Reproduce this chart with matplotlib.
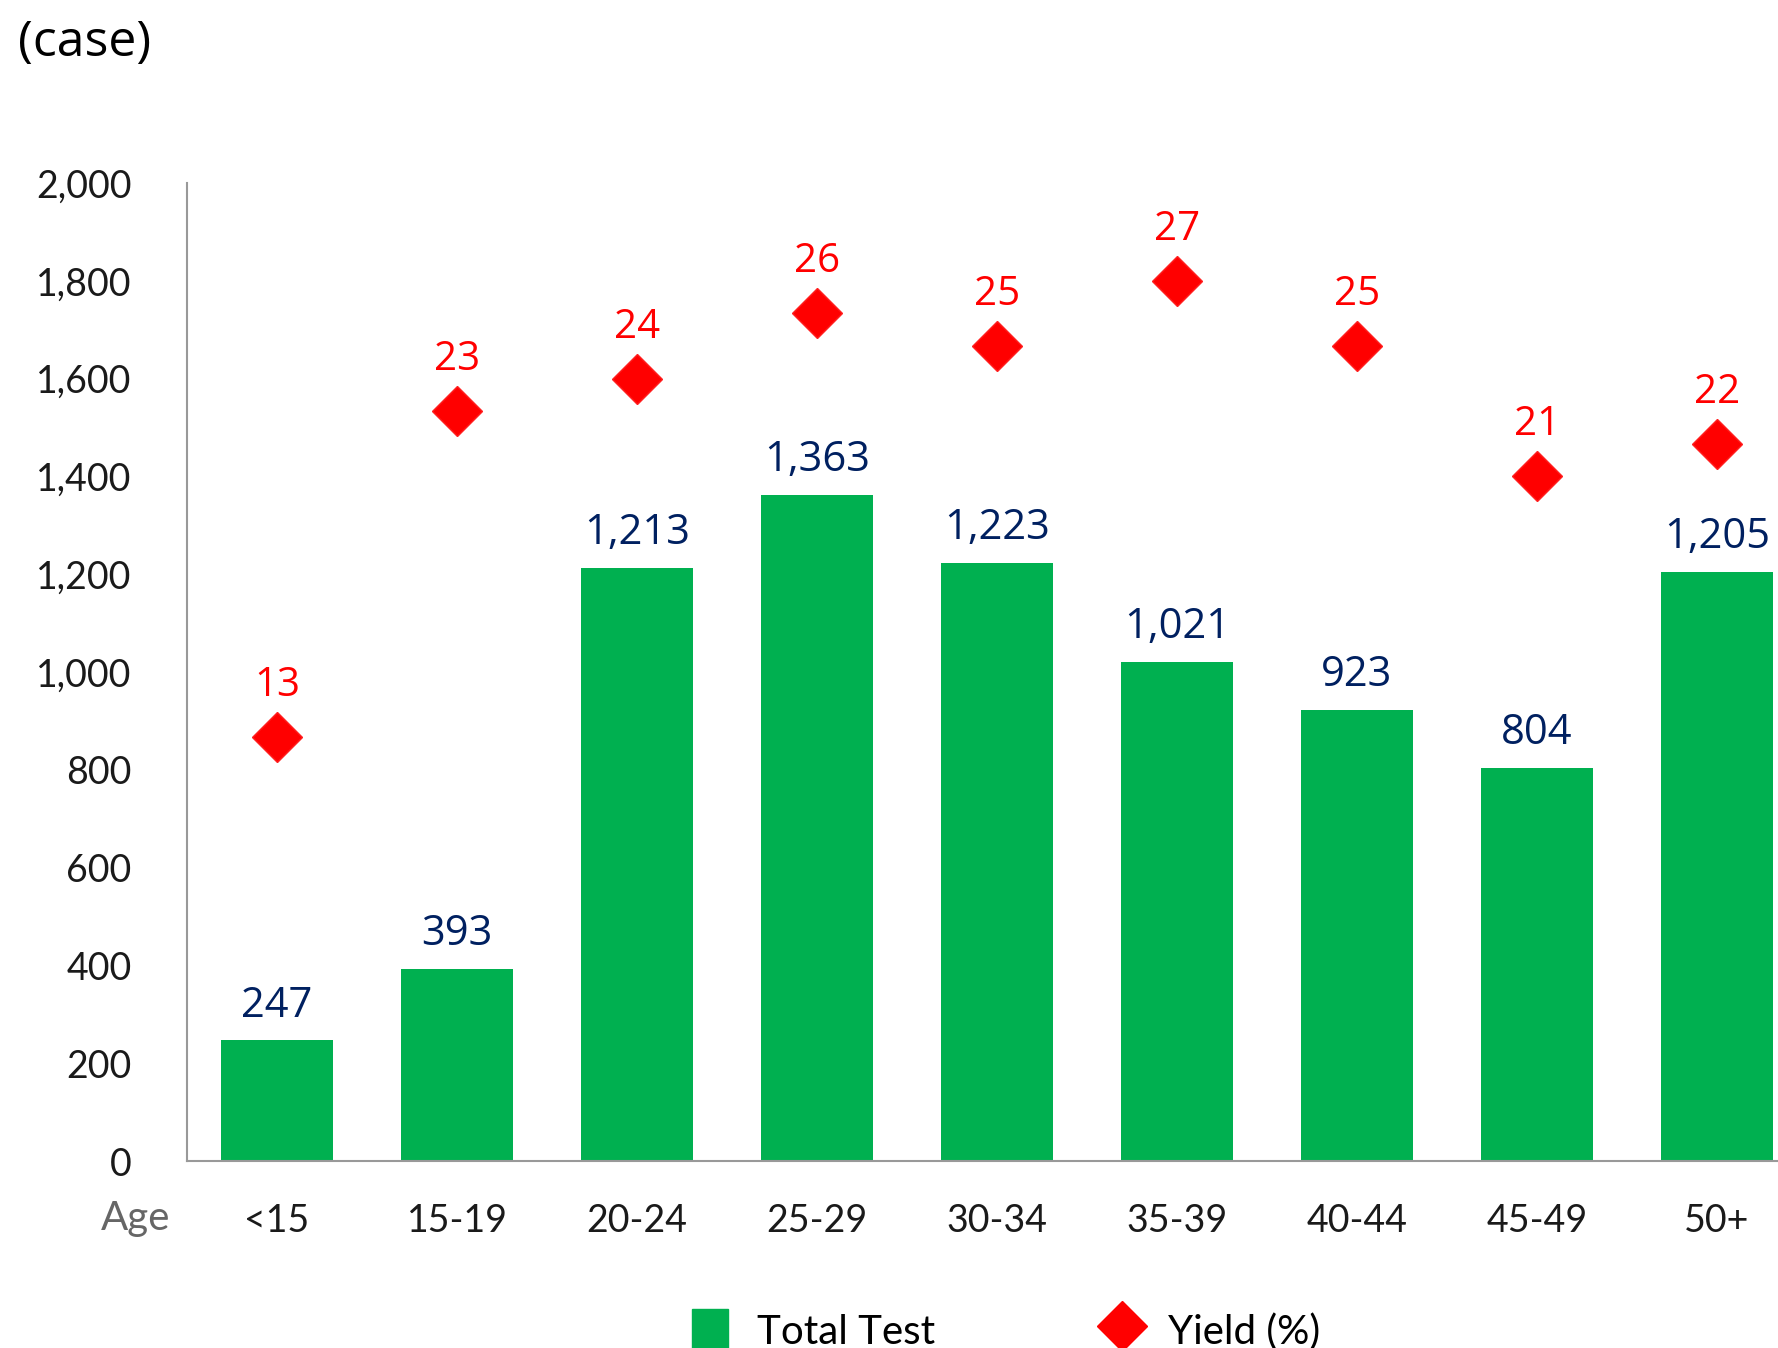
import matplotlib.pyplot as plt
from matplotlib.lines import Line2D
from matplotlib.patches import Patch

ages = ["<15", "15-19", "20-24", "25-29", "30-34", "35-39", "40-44", "45-49", "50+"]
total_test = [247, 393, 1213, 1363, 1223, 1021, 923, 804, 1205]
yield_pct = [13, 23, 24, 26, 25, 27, 25, 21, 22]

green = "#00B050"
navy = "#002060"
red = "#FF0000"

plt.rcParams["font.family"] = ["Lato", "DejaVu Sans"]

fig = plt.figure(figsize=(17.78, 13.48), dpi=100)
ax = fig.add_axes([0.1052, 0.1387, 0.8948, 0.7255])

x = list(range(len(ages)))
ax.bar(x, total_test, width=0.625, color=green, zorder=2)
for xi, v in zip(x, total_test):
    ax.text(xi, v + 28, f"{v:,}", ha="center", va="bottom", color=navy,
            fontsize=30, family="Open Sans", fontweight="medium")

ax.set_xlim(-0.5, 8.34)
ax.set_ylim(0, 2000)
ax.set_yticks(range(0, 2001, 200))
ax.set_yticklabels([f"{t:,}" for t in range(0, 2001, 200)])
ax.set_xticks(x)
ax.set_xticklabels(ages)
ax.tick_params(axis="both", length=0, labelsize=27, colors="#1a1a1a")
ax.tick_params(axis="y", pad=40)
ax.tick_params(axis="x", pad=30)
for s in ["top", "right"]:
    ax.spines[s].set_visible(False)
for s in ["left", "bottom"]:
    ax.spines[s].set_color("#999999")
    ax.spines[s].set_linewidth(1.5)

ax2 = ax.twinx()
ax2.set_ylim(0, 30)
ax2.plot(x, yield_pct, linestyle="none", marker="D", markersize=25,
         color=red, markeredgecolor="#FF2020", zorder=3)
for xi, v in zip(x, yield_pct):
    ax2.text(xi, v + 0.95, str(v), ha="center", va="bottom", color=red,
             fontsize=29, family="Open Sans")
ax2.axis("off")

fig.text(0.0765, 0.096, "Age", ha="center", va="center", fontsize=29,
         color="#666666")
fig.text(0.010, 0.968, "(case)", ha="left", va="center", fontsize=36,
         family="Open Sans", fontweight="medium", color="black")

handles = [
    Patch(facecolor=green, edgecolor=green),
    Line2D([], [], linestyle="none", marker="D", markersize=25, color=red),
]
fig.legend(handles, ["Total Test", "Yield (%)"], loc="center",
           bbox_to_anchor=(0.566, 0.013), ncol=2, frameon=False,
           handlelength=0.9, handleheight=1.3, columnspacing=4.2,
           handletextpad=0.7, prop={"size": 29})

fig.savefig("out.png", dpi=100)
